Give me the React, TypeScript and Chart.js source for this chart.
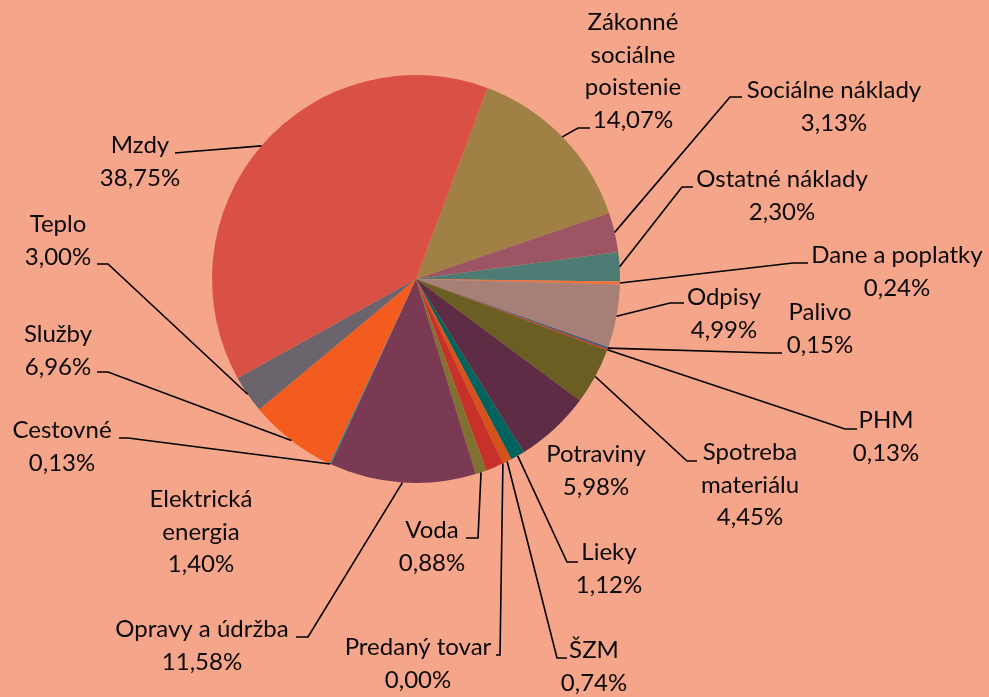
import React, { useEffect, useRef } from "react";
import { Chart, registerables } from "chart.js";

Chart.register(...registerables);

// ---- data (clockwise from the first slice) ----
const categories = [
  "Zákonné sociálne poistenie",
  "Sociálne náklady",
  "Ostatné náklady",
  "Dane a poplatky",
  "Odpisy",
  "Palivo",
  "PHM",
  "Spotreba materiálu",
  "Potraviny",
  "Lieky",
  "ŠZM",
  "Predaný tovar",
  "Elektrická energia",
  "Voda",
  "Opravy a údržba",
  "Cestovné",
  "Služby",
  "Teplo",
  "Mzdy",
];

const shares = [
  14.07, 3.13, 2.3, 0.24, 4.99, 0.15, 0.13, 4.45, 5.98, 1.12, 0.74, 0.0, 1.4,
  0.88, 11.58, 0.13, 6.96, 3.0, 38.75,
];

const sliceColors = [
  "#A08045",
  "#9C5563",
  "#4E7C74",
  "#F0703A",
  "#A68076",
  "#2B5F82",
  "#C0392B",
  "#6A5E22",
  "#5E2C44",
  "#00635D",
  "#D4521C",
  "#8E4A2E",
  "#C8302A",
  "#7F7230",
  "#7A3A54",
  "#2A8A8A",
  "#F45B1E",
  "#6C646C",
  "#D95145",
];

// ---- label layout (text centre x, first baseline y, wrap words, leader elbow & end) ----
type LabelLayout = {
  x: number;
  y: number;
  wrap: boolean;
  elbow: [number, number] | null;
  end: [number, number] | null;
};

const labelLayout: LabelLayout[] = [
  { x: 633, y: 30, wrap: true, elbow: [578, 128], end: [590, 128] },
  { x: 834, y: 98, wrap: false, elbow: [730, 97], end: [742, 97] },
  { x: 782, y: 187, wrap: false, elbow: [682, 187], end: [693, 187] },
  { x: 897, y: 263, wrap: false, elbow: [793, 263], end: [808, 263] },
  { x: 724, y: 305, wrap: false, elbow: [670, 303], end: [684, 303] },
  { x: 820, y: 320, wrap: false, elbow: [770, 353], end: [782, 353] },
  { x: 886, y: 428, wrap: false, elbow: [845, 429], end: [857, 429] },
  { x: 750, y: 460, wrap: true, elbow: [687, 461], end: [697, 461] },
  { x: 596, y: 462, wrap: false, elbow: null, end: null },
  { x: 609, y: 560, wrap: false, elbow: [567, 562], end: [578, 562] },
  { x: 594, y: 658, wrap: false, elbow: [557, 658], end: [567, 658] },
  { x: 418, y: 655, wrap: false, elbow: [500, 655], end: [496, 655] },
  { x: 201, y: 507, wrap: true, elbow: null, end: null },
  { x: 432, y: 538, wrap: false, elbow: [478, 538], end: [466, 538] },
  { x: 202, y: 637, wrap: false, elbow: [308, 637], end: [296, 637] },
  { x: 62, y: 438, wrap: false, elbow: [128, 438], end: [119, 438] },
  { x: 58, y: 342, wrap: false, elbow: [108, 372], end: [97, 372] },
  { x: 58, y: 232, wrap: false, elbow: [108, 264], end: [97, 264] },
  { x: 140, y: 153, wrap: false, elbow: [186, 152], end: [175, 153] },
];

const FONT = "24px Lato, 'Noto Sans', sans-serif";
const LINE_H = 32.5;

const fmt = (v: number) => v.toFixed(2).replace(".", ",") + "%";

const labelPlugin = {
  id: "pieLabels",
  afterDatasetsDraw(chart: any) {
    const ctx: CanvasRenderingContext2D = chart.ctx;
    const meta = chart.getDatasetMeta(0);
    ctx.save();
    meta.data.forEach((arc: any, i: number) => {
      const p = arc.getProps(
        ["x", "y", "startAngle", "endAngle", "outerRadius"],
        true
      );
      const mid = (p.startAngle + p.endAngle) / 2;
      const sx = p.x + Math.cos(mid) * p.outerRadius;
      const sy = p.y + Math.sin(mid) * p.outerRadius;
      const lay = labelLayout[i];
      if (lay.elbow && lay.end) {
        ctx.beginPath();
        ctx.moveTo(sx, sy);
        ctx.lineTo(lay.elbow[0], lay.elbow[1]);
        ctx.lineTo(lay.end[0], lay.end[1]);
        ctx.strokeStyle = "#000";
        ctx.lineWidth = 1.6;
        ctx.stroke();
      }
      const lines = lay.wrap ? categories[i].split(" ") : [categories[i]];
      lines.push(fmt(shares[i]));
      ctx.font = FONT;
      ctx.fillStyle = "#0a0a0a";
      ctx.textAlign = "center";
      ctx.textBaseline = "alphabetic";
      lines.forEach((t, k) => ctx.fillText(t, lay.x, lay.y + k * LINE_H));
    });
    ctx.restore();
  },
};

export default function App() {
  const ref = useRef<HTMLCanvasElement | null>(null);
  useEffect(() => {
    if (!ref.current) return;
    const chart = new Chart(ref.current, {
      type: "pie",
      data: {
        labels: categories,
        datasets: [
          {
            data: shares,
            backgroundColor: sliceColors,
            borderWidth: 0,
          },
        ],
      },
      options: {
        responsive: false,
        maintainAspectRatio: false,
        animation: false,
        devicePixelRatio: 1,
        rotation: 20.5,
        layout: { padding: { left: 212, right: 369, top: 75, bottom: 214 } },
        plugins: {
          legend: { display: false },
          tooltip: { enabled: false },
        },
      },
      plugins: [labelPlugin],
    });
    return () => chart.destroy();
  }, []);
  return (
    <div
      style={{
        position: "absolute",
        left: 0,
        top: 0,
        width: 989,
        height: 697,
        background: "#F5A589",
      }}
    >
      <canvas ref={ref} width={989} height={697} />
    </div>
  );
}
